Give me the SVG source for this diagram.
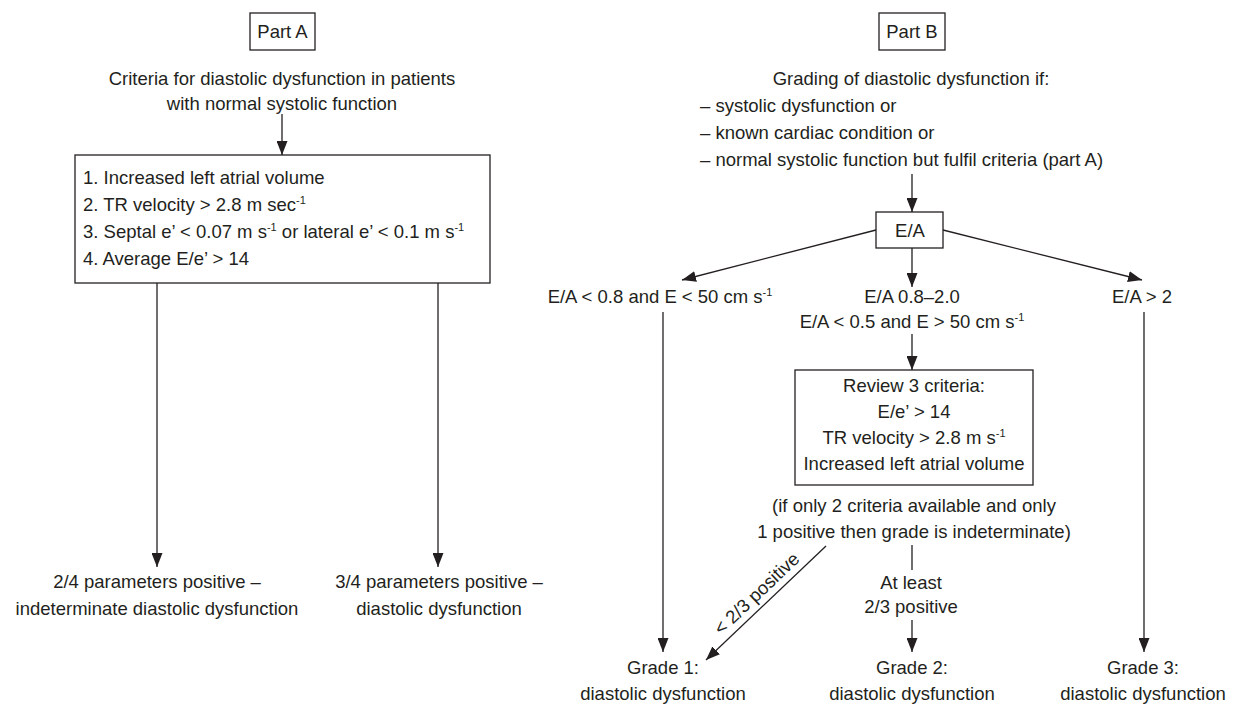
<svg xmlns="http://www.w3.org/2000/svg" width="1233" height="704" viewBox="0 0 1233 704">
<style>
text { font-family: "Liberation Sans", Arial, sans-serif; font-size: 18.5px; fill: #231f20; }
.c { text-anchor: middle; }
.box { fill: #ffffff; stroke: #231f20; stroke-width: 1.3; }
.ln { fill: none; stroke: #231f20; stroke-width: 1.3; }
.sup { font-size: 11px; }
</style>
<defs>
<marker id="ah" markerUnits="userSpaceOnUse" markerWidth="14" markerHeight="11" refX="14" refY="5.5" orient="auto">
<path d="M0,0 L14,5.5 L0,11 z" fill="#231f20"/>
</marker>
</defs>
<rect width="1233" height="704" fill="#ffffff"/>

<g id="connectors">
<line class="ln" x1="282" y1="114" x2="282" y2="155" marker-end="url(#ah)"/>
<line class="ln" x1="157" y1="283" x2="157" y2="567" marker-end="url(#ah)"/>
<line class="ln" x1="438" y1="283" x2="438" y2="567" marker-end="url(#ah)"/>
<line class="ln" x1="912" y1="174" x2="912" y2="212" marker-end="url(#ah)"/>
<line class="ln" x1="876" y1="230" x2="682" y2="280" marker-end="url(#ah)"/>
<line class="ln" x1="943" y1="230" x2="1142" y2="280" marker-end="url(#ah)"/>
<line class="ln" x1="912" y1="248" x2="912" y2="287" marker-end="url(#ah)"/>
<line class="ln" x1="663" y1="312" x2="663" y2="652" marker-end="url(#ah)"/>
<line class="ln" x1="912" y1="334" x2="912" y2="370" marker-end="url(#ah)"/>
<line class="ln" x1="1144" y1="312" x2="1144" y2="652" marker-end="url(#ah)"/>
<line class="ln" x1="826" y1="546" x2="706" y2="660" marker-end="url(#ah)"/>
<line class="ln" x1="912" y1="545" x2="912" y2="570"/>
<line class="ln" x1="912" y1="620" x2="912" y2="652" marker-end="url(#ah)"/>
</g>

<g id="partA-label">
<rect class="box" x="250" y="13" width="65" height="37"/>
<text class="c" x="282.5" y="38">Part A</text>
</g>

<g id="partA-title">
<text class="c" x="282" y="85">Criteria for diastolic dysfunction in patients</text>
<text class="c" x="282" y="110">with normal systolic function</text>
</g>

<g id="partA-criteria">
<rect class="box" x="75" y="155" width="415" height="128"/>
<text x="83" y="184">1. Increased left atrial volume</text>
<text x="83" y="211">2. TR velocity &gt; 2.8 m sec<tspan class="sup" dy="-7">-1</tspan></text>
<text x="83" y="238">3. Septal e’ &lt; 0.07 m s<tspan class="sup" dy="-7">-1</tspan><tspan dy="7"> or lateral e’ &lt; 0.1 m s</tspan><tspan class="sup" dy="-7">-1</tspan></text>
<text x="83" y="265">4. Average E/e’ &gt; 14</text>
</g>

<g id="partA-result1">
<text class="c" x="157" y="588">2/4 parameters positive –</text>
<text class="c" x="157" y="615">indeterminate diastolic dysfunction</text>
</g>

<g id="partA-result2">
<text class="c" x="439" y="588">3/4 parameters positive –</text>
<text class="c" x="439" y="615">diastolic dysfunction</text>
</g>

<g id="partB-label">
<rect class="box" x="879" y="13" width="66" height="37"/>
<text class="c" x="912" y="38">Part B</text>
</g>

<g id="partB-title">
<text class="c" x="911" y="85">Grading of diastolic dysfunction if:</text>
<text x="700" y="112">– systolic dysfunction or</text>
<text x="700" y="139">– known cardiac condition or</text>
<text x="700" y="166">– normal systolic function but fulfil criteria (part A)</text>
</g>

<g id="partB-ea">
<rect class="box" x="876" y="212" width="67" height="36"/>
<text class="c" x="910" y="237">E/A</text>
</g>

<g id="partB-low">
<text class="c" x="660" y="303">E/A &lt; 0.8 and E &lt; 50 cm s<tspan class="sup" dy="-7">-1</tspan></text>
</g>

<g id="partB-mid">
<text class="c" x="912" y="303">E/A 0.8–2.0</text>
<text class="c" x="912" y="328">E/A &lt; 0.5 and E &gt; 50 cm s<tspan class="sup" dy="-7">-1</tspan></text>
</g>

<g id="partB-high">
<text class="c" x="1142" y="303">E/A &gt; 2</text>
</g>

<g id="partB-review">
<rect class="box" x="795" y="370" width="238" height="115"/>
<text class="c" x="914" y="392">Review 3 criteria:</text>
<text class="c" x="914" y="418">E/e’ &gt; 14</text>
<text class="c" x="914" y="444">TR velocity &gt; 2.8 m s<tspan class="sup" dy="-7">-1</tspan></text>
<text class="c" x="914" y="470">Increased left atrial volume</text>
</g>

<g id="partB-note">
<text class="c" x="914" y="512">(if only 2 criteria available and only</text>
<text class="c" x="914" y="538">1 positive then grade is indeterminate)</text>
</g>

<g id="label-less">
<text class="c" x="761" y="598" transform="rotate(-43.5 761 598)">&lt; 2/3 positive</text>
</g>

<g id="label-atleast">
<text class="c" x="911" y="589">At least</text>
<text class="c" x="911" y="613">2/3 positive</text>
</g>

<g id="grade1">
<text class="c" x="663" y="674">Grade 1:</text>
<text class="c" x="663" y="700">diastolic dysfunction</text>
</g>

<g id="grade2">
<text class="c" x="912" y="674">Grade 2:</text>
<text class="c" x="912" y="700">diastolic dysfunction</text>
</g>

<g id="grade3">
<text class="c" x="1143" y="674">Grade 3:</text>
<text class="c" x="1143" y="700">diastolic dysfunction</text>
</g>
</svg>
